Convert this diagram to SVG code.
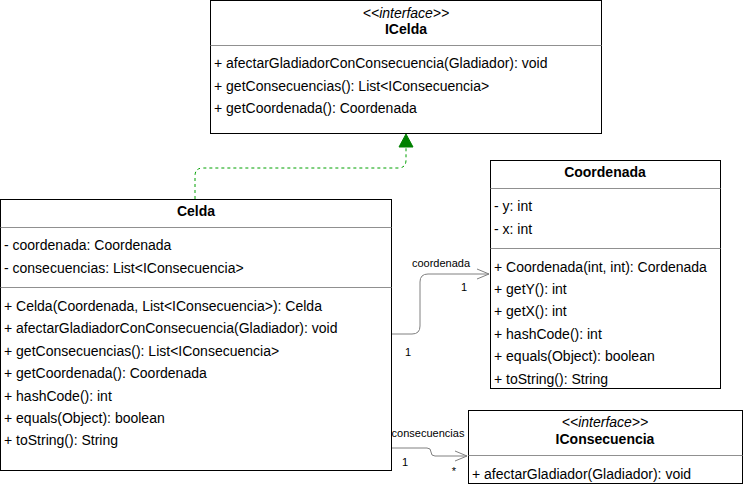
<svg xmlns="http://www.w3.org/2000/svg" width="743" height="484" viewBox="0 0 743 484">
<defs>
<style>
.box{fill:#fff;stroke:#000;stroke-width:1}
.sep{stroke:#909090;stroke-width:1;fill:none}
.t{font-family:"Liberation Sans",Arial,sans-serif;font-size:14px;fill:#000}
.b{font-weight:bold;text-anchor:middle}
.i{font-style:italic;text-anchor:middle}
.lbl{font-family:"Liberation Sans",Arial,sans-serif;font-size:11px;fill:#000}
.edge{fill:none;stroke:#808080;stroke-width:1}
</style>
</defs>
<rect width="743" height="484" fill="#fff"/>
<g id="connectors">
<path d="M195,199 V176 Q195,168 203,168 H398 Q406,168 406,160 V146" fill="none" stroke="#00a000" stroke-width="1" stroke-dasharray="3,3"/>
<polygon points="406,134 399,147 413,147" fill="#008000" stroke="#008000"/>
<path class="edge" d="M391,334 H412 Q420,334 420,326 V282 Q420,274 428,274 H489"/>
<path class="edge" d="M477,269 L489,274 L477,279"/>
<path class="edge" d="M391,448 H427 Q431,448 431,452 Q431,456 435,456 H467"/>
<path class="edge" d="M455,451 L467,456 L455,461"/>
<text class="lbl" x="441" y="267" text-anchor="middle">coordenada</text>
<text class="lbl" x="464" y="291" text-anchor="middle">1</text>
<text class="lbl" x="408" y="356" text-anchor="middle">1</text>
<text class="lbl" x="428" y="437" text-anchor="middle">consecuencias</text>
<text class="lbl" x="405" y="466" text-anchor="middle">1</text>
<text class="lbl" x="454" y="475" text-anchor="middle">*</text>
</g>
<g id="ICelda">
<rect class="box" x="210.5" y="0.5" width="391" height="133"/>
<line class="sep" x1="210.5" y1="45.5" x2="601.5" y2="45.5"/>
<text class="t i" x="406" y="18">&lt;&lt;interface&gt;&gt;</text>
<text class="t b" x="406" y="34">ICelda</text>
<text class="t" x="214" y="68">+ afectarGladiadorConConsecuencia(Gladiador): void</text>
<text class="t" x="214" y="91">+ getConsecuencias(): List&lt;IConsecuencia&gt;</text>
<text class="t" x="214" y="113">+ getCoordenada(): Coordenada</text>
</g>
<g id="Celda">
<rect class="box" x="0.5" y="199.5" width="391" height="271"/>
<line class="sep" x1="0.5" y1="227.5" x2="391.5" y2="227.5"/>
<line class="sep" x1="0.5" y1="287.5" x2="391.5" y2="287.5"/>
<text class="t b" x="196" y="216">Celda</text>
<text class="t" x="4" y="250">- coordenada: Coordenada</text>
<text class="t" x="4" y="273">- consecuencias: List&lt;IConsecuencia&gt;</text>
<text class="t" x="4" y="311">+ Celda(Coordenada, List&lt;IConsecuencia&gt;): Celda</text>
<text class="t" x="4" y="333">+ afectarGladiadorConConsecuencia(Gladiador): void</text>
<text class="t" x="4" y="356">+ getConsecuencias(): List&lt;IConsecuencia&gt;</text>
<text class="t" x="4" y="378">+ getCoordenada(): Coordenada</text>
<text class="t" x="4" y="401">+ hashCode(): int</text>
<text class="t" x="4" y="423">+ equals(Object): boolean</text>
<text class="t" x="4" y="445">+ toString(): String</text>
</g>
<g id="Coordenada">
<rect class="box" x="490.5" y="160.5" width="230" height="228"/>
<line class="sep" x1="490.5" y1="188.5" x2="720.5" y2="188.5"/>
<line class="sep" x1="490.5" y1="248.5" x2="720.5" y2="248.5"/>
<text class="t b" x="605" y="177">Coordenada</text>
<text class="t" x="494" y="211">- y: int</text>
<text class="t" x="494" y="234">- x: int</text>
<text class="t" x="494" y="272">+ Coordenada(int, int): Cordenada</text>
<text class="t" x="494" y="294">+ getY(): int</text>
<text class="t" x="494" y="316">+ getX(): int</text>
<text class="t" x="494" y="339">+ hashCode(): int</text>
<text class="t" x="494" y="361">+ equals(Object): boolean</text>
<text class="t" x="494" y="384">+ toString(): String</text>
</g>
<g id="IConsecuencia">
<rect class="box" x="468.5" y="410.5" width="274" height="73"/>
<line class="sep" x1="468.5" y1="455.5" x2="742.5" y2="455.5"/>
<text class="t i" x="605" y="427">&lt;&lt;interface&gt;&gt;</text>
<text class="t b" x="605" y="444">IConsecuencia</text>
<text class="t" x="472" y="479">+ afectarGladiador(Gladiador): void</text>
</g>
</svg>
